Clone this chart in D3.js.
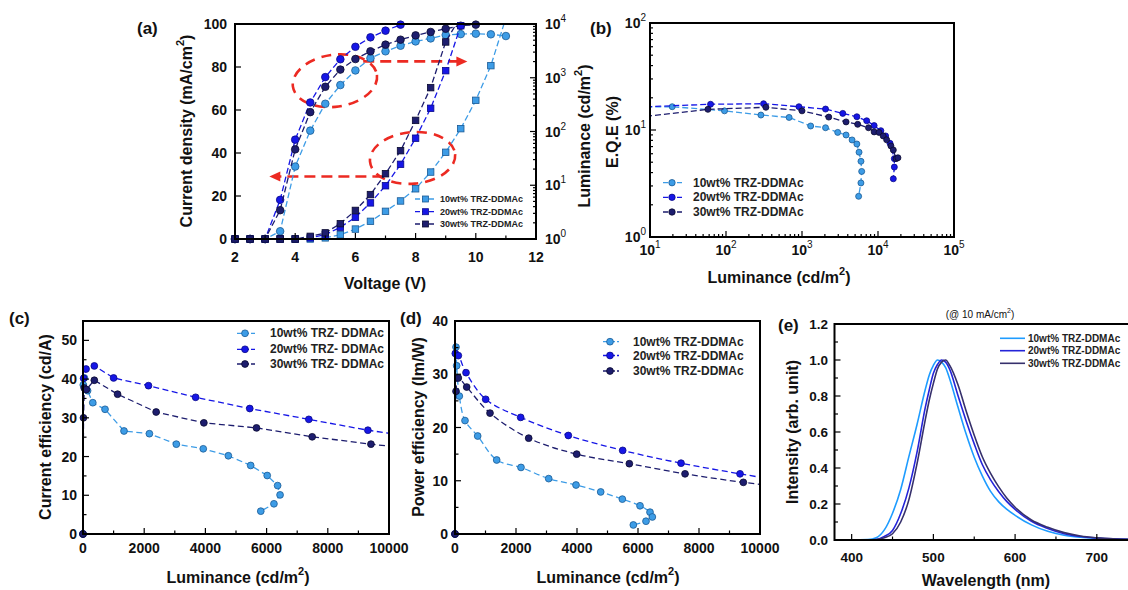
<!DOCTYPE html>
<html>
<head>
<meta charset="utf-8">
<script src="https://cdn.jsdelivr.net/npm/d3@7"></script>
<style>
  body { margin: 0; background: #fff; }
  svg { display: block; }
</style>
</head>
<body>
<script>
// ---------- series ----------
const seriesNames = ["10wt% TRZ-DDMAc", "20wt% TRZ-DDMAc", "30wt% TRZ-DDMAc"];
const seriesNamesC = ["10wt% TRZ- DDMAc", "20wt% TRZ- DDMAc", "30wt% TRZ- DDMAc"];
const fillColors = ["#3d9ce6", "#1616e6", "#1d1d6e"];
const edgeColors = ["#1b5a94", "#0a0a88", "#0a0a30"];
const specColors = ["#1e9cff", "#2424d8", "#36306c"];

// ---------- (a) J-V-L ----------
const voltA = [2, 2.5, 3, 3.5, 4, 4.5, 5, 5.5, 6, 6.5, 7, 7.5, 8, 8.5, 9, 9.5, 10, 10.5, 11];
const curDens10 = [0, 0, 0, 3.6, 33.7, 50.4, 62.9, 71.6, 78.4, 84.1, 87.3, 89.9, 91.9, 93.3, 94.9, 95.3, 95.5, 95.2, 94.4];
const curDens20 = [0, 0, 0, 18.2, 46.2, 63.5, 75.3, 83.6, 89.4, 93.8, 96.9, 99.7, null, null, null, null, null, null, null];
const curDens30 = [0, 0, 0, 13.4, 41.7, 59.0, 70.8, 78.8, 83.7, 87.3, 90.4, 92.7, 94.7, 96.3, 97.8, 99.2, 99.7, null, null];
const lumA10 = [1, 1, 1, 1, 1, 1, 1.05, 1.2, 1.53, 2.13, 3.27, 5.1, 8.6, 17.6, 41, 113, 380, 1680, 13000];
const lumA20 = [1, 1, 1, 1, 1, 1.05, 1.2, 1.66, 2.53, 4.7, 9.8, 24.5, 75, 270, 1355, 9300, null, null, null];
const lumA30 = [1, 1, 1, 1, 1, 1.12, 1.3, 1.93, 3.4, 6.7, 16.4, 44, 161, 655, 4630, 14000, null, null, null];
// red guide ellipses [V, J, rx(V), ry(J), tilt deg] and arrows [V start, V end, J]
const guideEllipses = [[5.32, 73.6, 1.41, 12.1, -8], [7.90, 37.7, 1.42, 12.0, -5]];
const guideArrows = [[6.26, 9.72, 82.6], [6.93, 3.14, 29.1]];

// ---------- (b) EQE vs luminance ----------
const eqeLum10 = [3, 19.6, 95.6, 288, 677, 1300, 2040, 2950, 3800, 4560, 5270, 5630, 5970, 6100, 5960, 5560];
const eqe10 = [16.3, 16.5, 15.1, 13.8, 13.1, 10.9, 10.5, 9.5, 8.98, 8.07, 7.4, 6.2, 5.1, 4.1, 3.2, 2.4];
const eqeLum20 = [3, 62.6, 312, 912, 2040, 3440, 5270, 7100, 8900, 10900, 12600, 14400, 16400, 16400, 15900];
const eqe20 = [16.0, 17.4, 17.6, 16.5, 15.7, 14.3, 13.3, 12.2, 11.0, 9.85, 8.8, 7.5, 5.4, 4.5, 3.5];
const eqeLum30 = [3, 57.8, 335, 1000, 2250, 3800, 5400, 7500, 8900, 10300, 11700, 13000, 14800, 15900, 17300, 18300];
const eqe30 = [12.3, 15.6, 16.3, 15.1, 13.2, 11.9, 11.3, 10.5, 9.6, 9.5, 8.8, 8.1, 7.1, 6.5, 5.4, 5.5];

// ---------- (c) current efficiency ----------
const ceLum10 = [0, 10, 45, 150, 320, 720, 1340, 2170, 3050, 3930, 4750, 5480, 6020, 6360, 6440, 6240, 5810];
const ce10 = [0, 38.5, 40.3, 37.0, 33.9, 32.2, 26.6, 25.9, 23.2, 22.0, 20.2, 17.7, 15.1, 12.5, 10.1, 7.8, 5.9];
const ceLum20 = [0, 20, 100, 370, 1000, 2140, 3680, 5450, 7380, 9310, 11500];
const ce20 = [0, 40.2, 42.6, 43.4, 40.3, 38.3, 35.3, 32.4, 29.6, 26.8, 24.3];
const ceLum30 = [0, 15, 40, 110, 370, 1130, 2390, 3950, 5670, 7490, 9410, 11000];
const ce30 = [0, 30.0, 37.7, 37.3, 39.7, 36.1, 31.5, 28.7, 27.4, 25.1, 23.2, 21.8];

// ---------- (d) power efficiency ----------
const peLum10 = [0, 33, 55, 142, 328, 744, 1367, 2164, 3072, 3968, 4777, 5487, 6066, 6394, 6470, 6262, 5847];
const pe10 = [0, 35.1, 31.6, 25.9, 21.3, 18.4, 13.9, 12.5, 10.4, 9.2, 7.9, 6.55, 5.3, 4.1, 3.2, 2.4, 1.7];
const peLum20 = [0, 10, 109, 361, 1006, 2153, 3716, 5498, 7411, 9345, 11000];
const pe20 = [0, 33.9, 33.5, 30.3, 25.3, 21.9, 18.5, 15.7, 13.3, 11.3, 9.7];
const peLum30 = [0, 33, 109, 383, 1148, 2416, 3990, 5716, 7542, 9454, 11000];
const pe30 = [0, 26.8, 29.3, 27.6, 22.7, 18.0, 15.0, 13.2, 11.3, 9.7, 8.7];

// ---------- (e) EL spectra ----------
const wavelength = [380, 400, 420, 430, 440, 450, 460, 470, 480, 490, 495, 500, 505, 510, 515, 520, 530, 540, 550, 560, 570, 580, 590, 600, 620, 640, 660, 680, 700, 720, 740];
const el10 = [0, 0, 0.002, 0.012, 0.056, 0.149, 0.281, 0.463, 0.642, 0.835, 0.917, 0.97, 1.0, 0.988, 0.958, 0.895, 0.74, 0.59, 0.46, 0.355, 0.27, 0.212, 0.17, 0.137, 0.084, 0.048, 0.026, 0.015, 0.009, 0.005, 0.003];
const el20 = [0, 0, 0, 0.003, 0.02, 0.053, 0.147, 0.288, 0.488, 0.734, 0.835, 0.926, 0.975, 1.0, 0.988, 0.948, 0.804, 0.663, 0.534, 0.418, 0.334, 0.268, 0.213, 0.17, 0.104, 0.064, 0.035, 0.019, 0.011, 0.006, 0.003];
const el30 = [0, 0, 0, 0.002, 0.012, 0.035, 0.10, 0.223, 0.424, 0.666, 0.778, 0.87, 0.95, 0.988, 1.0, 0.97, 0.864, 0.718, 0.582, 0.461, 0.37, 0.295, 0.232, 0.182, 0.111, 0.071, 0.041, 0.022, 0.012, 0.006, 0.003];

// ---------- tick values ----------
const ticksA_x = [2, 4, 6, 8, 10, 12];
const ticksA_y = [0, 20, 40, 60, 80, 100];
const ticksLin_lum = [0, 2000, 4000, 6000, 8000, 10000];
const ticksC_y = [0, 10, 20, 30, 40, 50];
const ticksD_y = [0, 10, 20, 30, 40];
const ticksE_x = [400, 500, 600, 700];
const ticksE_y = [0, 0.2, 0.4, 0.6, 0.8, 1.0, 1.2];

// ======================================================
const FONT = '"Liberation Sans", Arial, Helvetica, sans-serif';
const svg = d3.select("body").append("svg")
  .attr("width", 1128).attr("height", 590)
  .style("font-family", FONT);
const defs = svg.append("defs");

function clipFor(id, xs, ys) {
  const [x0, x1] = xs.range(), [y1, y0] = ys.range();
  defs.append("clipPath").attr("id", id).append("rect")
    .attr("x", x0).attr("y", y0).attr("width", x1 - x0).attr("height", y1 - y0);
  return `url(#${id})`;
}

function frame(xs, ys, extraRight = 0) {
  const [x0, x1] = xs.range(), [y1, y0] = ys.range();
  svg.append("rect").attr("x", x0).attr("y", y0)
    .attr("width", x1 - x0 + extraRight).attr("height", y1 - y0)
    .attr("fill", "none").attr("stroke", "#000").attr("stroke-width", 2);
}

function ticks(scale, vals, side, pos, len, w = 1.2) {
  svg.append("g").attr("stroke", "#000").attr("stroke-width", w)
    .selectAll("line").data(vals).join("line")
    .attr("x1", d => side === "bottom" ? scale(d) : pos)
    .attr("x2", d => side === "bottom" ? scale(d) : side === "left" ? pos + len : pos - len)
    .attr("y1", d => side === "bottom" ? pos : scale(d))
    .attr("y2", d => side === "bottom" ? pos - len : scale(d));
}

function labels(scale, vals, side, pos, fmt, size = 14) {
  svg.append("g").attr("font-size", size).attr("font-weight", "bold").attr("fill", "#111")
    .selectAll("text").data(vals).join("text")
    .attr("x", d => side === "bottom" ? scale(d) : pos)
    .attr("y", d => side === "bottom" ? pos : scale(d))
    .attr("text-anchor", side === "bottom" ? "middle" : side === "left" ? "end" : "start")
    .attr("dominant-baseline", "central")
    .text(fmt);
}

function powLabels(scale, vals, side, pos, size = 14) {
  const g = svg.append("g").attr("font-size", size).attr("font-weight", "bold").attr("fill", "#111");
  vals.forEach(v => {
    const t = g.append("text")
      .attr("x", side === "bottom" ? scale(v) : pos)
      .attr("y", side === "bottom" ? pos : scale(v))
      .attr("text-anchor", side === "bottom" ? "middle" : side === "left" ? "end" : "start")
      .attr("dominant-baseline", "central");
    t.append("tspan").text("10");
    t.append("tspan").attr("dy", -6).attr("font-size", 10).attr("font-weight", "normal")
      .text(Math.round(Math.log10(v)));
  });
}

function logMinors(lo, hi) {
  const out = [];
  for (let e = lo; e < hi; e++) for (let m = 2; m <= 9; m++) out.push(m * Math.pow(10, e));
  return out;
}

// text with optional superscripts: parts = ["text", {sup:"2"}, ...]
function rich(x, y, parts, opts) {
  const t = svg.append("text").attr("x", x).attr("y", y)
    .attr("text-anchor", "middle").attr("dominant-baseline", "central")
    .attr("font-size", opts.size).attr("font-weight", opts.weight || "bold").attr("fill", "#111");
  if (opts.rotate) t.attr("transform", `rotate(${opts.rotate},${x},${y})`);
  let shifted = false;
  parts.forEach(p => {
    if (typeof p === "string") {
      const s = t.append("tspan").text(p);
      if (shifted) { s.attr("dy", opts.supShift); shifted = false; }
    } else {
      t.append("tspan").attr("dy", -opts.supShift).attr("font-size", opts.supSize).text(p.sup);
      shifted = true;
    }
  });
  return t;
}

function panelTag(x, y, s) {
  svg.append("text").attr("x", x).attr("y", y).attr("font-size", 17)
    .attr("font-weight", "bold").attr("fill", "#111").text(s);
}

function plotSeries(xv, yv, xs, ys, i, o) {
  const pts = xv.map((x, k) => [x, yv[k]]).filter(p => p[1] !== null && p[1] !== undefined);
  const line = d3.line().x(d => xs(d[0])).y(d => ys(d[1])).curve(o.curve || d3.curveLinear);
  svg.append("path").datum(pts).attr("d", line)
    .attr("fill", "none").attr("stroke", o.lineColor || fillColors[i])
    .attr("stroke-width", o.lw || 1.3).attr("stroke-dasharray", o.dash || "5,3")
    .attr("clip-path", o.clip);
  const [xd0, xd1] = xs.domain(), [yd0, yd1] = ys.domain();
  const vis = pts.filter(p => p[0] >= Math.min(xd0, xd1) && p[0] <= Math.max(xd0, xd1) &&
                             p[1] >= Math.min(yd0, yd1) && p[1] <= Math.max(yd0, yd1));
  const g = svg.append("g").attr("fill", fillColors[i]).attr("stroke", edgeColors[i]).attr("stroke-width", 0.8);
  if (o.marker === "square") {
    const s = o.size;
    g.selectAll("rect").data(vis).join("rect")
      .attr("x", d => xs(d[0]) - s / 2).attr("y", d => ys(d[1]) - s / 2)
      .attr("width", s).attr("height", s);
  } else {
    g.selectAll("circle").data(vis).join("circle")
      .attr("cx", d => xs(d[0])).attr("cy", d => ys(d[1])).attr("r", o.r);
  }
}

function legend(names, o) {
  names.forEach((n, i) => {
    const y = o.ys[i];
    svg.append("line").attr("x1", o.x1).attr("x2", o.x2).attr("y1", y).attr("y2", y)
      .attr("stroke", o.lineColors ? o.lineColors[i] : fillColors[i])
      .attr("stroke-width", o.lw || 1.3).attr("stroke-dasharray", o.dash || null);
    if (o.marker === "square") {
      svg.append("rect").attr("x", o.mx - o.size / 2).attr("y", y - o.size / 2)
        .attr("width", o.size).attr("height", o.size)
        .attr("fill", fillColors[i]).attr("stroke", edgeColors[i]).attr("stroke-width", 0.8);
    } else if (o.marker === "circle") {
      svg.append("circle").attr("cx", o.mx).attr("cy", y).attr("r", o.r)
        .attr("fill", fillColors[i]).attr("stroke", edgeColors[i]).attr("stroke-width", 0.8);
    }
    svg.append("text").attr("x", o.tx).attr("y", y).attr("dominant-baseline", "central")
      .attr("font-size", o.size2).attr("font-weight", "bold").attr("fill", "#222").text(n);
  });
}

// ================= (a) =================
{
  const x = d3.scaleLinear().domain([2, 12]).range([235, 536]);
  const y = d3.scaleLinear().domain([0, 100]).range([239, 24]);
  const yR = d3.scaleLog().domain([1, 1e4]).range([239, 24]);
  const clip = clipFor("clipA", x, y);

  // red guides
  const red = "#ec2a22";
  guideEllipses.forEach(e => {
    const cx = x(e[0]), cy = y(e[1]);
    svg.append("ellipse").attr("cx", cx).attr("cy", cy)
      .attr("rx", x(e[0] + e[2]) - cx).attr("ry", cy - y(e[1] + e[3]))
      .attr("transform", `rotate(${e[4]},${cx},${cy})`)
      .attr("fill", "none").attr("stroke", red).attr("stroke-width", 2.6)
      .attr("stroke-dasharray", "10,7");
  });
  guideArrows.forEach(a => {
    const dir = Math.sign(a[1] - a[0]);
    const xe = x(a[1]), yy = y(a[2]);
    svg.append("line").attr("x1", x(a[0])).attr("x2", xe - dir * 8).attr("y1", yy).attr("y2", yy)
      .attr("stroke", red).attr("stroke-width", 2.6).attr("stroke-dasharray", "11,6");
    svg.append("path")
      .attr("d", `M${xe},${yy} L${xe - dir * 11},${yy - 5} L${xe - dir * 11},${yy + 5} Z`)
      .attr("fill", red);
  });

  const J = [curDens10, curDens20, curDens30];
  const L = [lumA10, lumA20, lumA30];
  [0, 1, 2].forEach(i => {
    plotSeries(voltA, J[i], x, y, i, { clip, marker: "circle", r: 3.8, dash: "6,3" });
  });
  [0, 1, 2].forEach(i => {
    plotSeries(voltA, L[i], x, yR, i, { clip, marker: "square", size: 6.5, dash: "6,3" });
  });

  frame(x, y);
  ticks(x, ticksA_x, "bottom", 239, 6);
  ticks(x, [3, 5, 7, 9, 11], "bottom", 239, 3.5);
  ticks(y, ticksA_y, "left", 235, 6);
  ticks(yR, [1, 10, 100, 1000, 10000], "right", 536, 6);
  ticks(yR, logMinors(0, 4), "right", 536, 3);
  labels(x, ticksA_x, "bottom", 257, d => d);
  labels(y, ticksA_y, "left", 227, d => d);
  powLabels(yR, [1, 10, 100, 1000, 10000], "right", 545);

  legend(seriesNames, { x1: 415, x2: 436, mx: 425.5, ys: [199, 211.7, 224], tx: 440,
    marker: "square", size: 6, size2: 9, dash: "5,2" });

  panelTag(137, 34, "(a)");
  rich(186, 131, ["Current density (mA/cm", { sup: "2" }, ")"],
    { size: 16, supSize: 11, supShift: 6, rotate: -90 });
  rich(584, 136, ["Luminance (cd/m", { sup: "2" }, ")"],
    { size: 16, supSize: 11, supShift: 6, rotate: -90 });
  rich(385, 283, ["Voltage (V)"], { size: 16 });
}

// ================= (b) =================
{
  const x = d3.scaleLog().domain([10, 1e5]).range([650, 954]);
  const y = d3.scaleLog().domain([1, 100]).range([237, 23]);
  const clip = clipFor("clipB", x, y);
  const Lx = [eqeLum10, eqeLum20, eqeLum30];
  const E = [eqe10, eqe20, eqe30];
  [0, 1, 2].forEach(i => plotSeries(Lx[i], E[i], x, y, i, { clip, marker: "circle", r: 3.0, dash: "6,3" }));

  frame(x, y);
  ticks(x, [10, 100, 1000, 1e4, 1e5], "bottom", 237, 6);
  ticks(x, logMinors(1, 5), "bottom", 237, 3);
  ticks(y, [1, 10, 100], "left", 650, 6);
  ticks(y, logMinors(0, 2), "left", 650, 3);
  powLabels(x, [10, 100, 1000, 1e4, 1e5], "bottom", 250);
  powLabels(y, [1, 10, 100], "left", 646);

  legend(seriesNames, { x1: 663, x2: 682, mx: 672, ys: [182.7, 197.3, 212], tx: 693,
    marker: "circle", r: 3.2, size2: 12, dash: "5,2" });

  panelTag(590, 34, "(b)");
  rich(612, 132, ["E.Q.E (%)"], { size: 16, rotate: -90 });
  rich(779, 277, ["Luminance (cd/m", { sup: "2" }, ")"], { size: 16, supSize: 11, supShift: 6 });
}

// ================= (c) =================
{
  const x = d3.scaleLinear().domain([0, 10000]).range([83, 389]);
  const y = d3.scaleLinear().domain([0, 55]).range([534, 321]);
  const clip = clipFor("clipC", x, y);
  const Lx = [ceLum10, ceLum20, ceLum30];
  const V = [ce10, ce20, ce30];
  [0, 1, 2].forEach(i => plotSeries(Lx[i], V[i], x, y, i, { clip, marker: "circle", r: 3.4, dash: "6,3.5" }));

  frame(x, y);
  ticks(x, ticksLin_lum, "bottom", 534, 6);
  ticks(x, [1000, 3000, 5000, 7000, 9000], "bottom", 534, 3.5);
  ticks(y, ticksC_y, "left", 83, 6);
  ticks(y, [5, 15, 25, 35, 45], "left", 83, 3.5);
  labels(x, ticksLin_lum, "bottom", 548, d => d);
  labels(y, ticksC_y, "left", 77, d => d);

  legend(seriesNamesC, { x1: 237, x2: 255, mx: 245, ys: [333.3, 349.3, 364], tx: 270,
    marker: "circle", r: 3.4, size2: 12, dash: "5,2" });

  panelTag(9, 324, "(c)");
  rich(45, 427, ["Current efficiency (cd/A)"], { size: 16, rotate: -90 });
  rich(238, 577, ["Luminance (cd/m", { sup: "2" }, ")"], { size: 16, supSize: 11, supShift: 6 });
}

// ================= (d) =================
{
  const x = d3.scaleLinear().domain([0, 10000]).range([455, 760]);
  const y = d3.scaleLinear().domain([0, 40]).range([534, 321]);
  const clip = clipFor("clipD", x, y);
  const Lx = [peLum10, peLum20, peLum30];
  const V = [pe10, pe20, pe30];
  [0, 1, 2].forEach(i => plotSeries(Lx[i], V[i], x, y, i,
    { clip, marker: "circle", r: 3.4, dash: "6,3.5", curve: d3.curveCatmullRom.alpha(0.5) }));

  frame(x, y);
  ticks(x, ticksLin_lum, "bottom", 534, 6);
  ticks(x, [1000, 3000, 5000, 7000, 9000], "bottom", 534, 3.5);
  ticks(y, ticksD_y, "left", 455, 6);
  ticks(y, [5, 15, 25, 35], "left", 455, 3.5);
  labels(x, ticksLin_lum, "bottom", 548, d => d);
  labels(y, ticksD_y, "left", 448, d => d);

  legend(seriesNames, { x1: 603, x2: 619, mx: 610, ys: [341.7, 355.5, 371], tx: 633,
    marker: "circle", r: 3.4, size2: 12, dash: "5,2" });

  panelTag(400, 324, "(d)");
  rich(418, 427, ["Power efficiency (lm/W)"], { size: 16, rotate: -90 });
  rich(608, 577, ["Luminance (cd/m", { sup: "2" }, ")"], { size: 16, supSize: 11, supShift: 6 });
}

// ================= (e) =================
{
  const x = d3.scaleLinear().domain([379, 740]).range([834.5, 1129.5]);
  const y = d3.scaleLinear().domain([0, 1.2]).range([540, 324]);
  const clip = clipFor("clipE", x, y);
  const S = [el10, el20, el30];
  const line = d3.line().x((d, k) => x(wavelength[k])).y(d => y(d)).curve(d3.curveMonotoneX);
  [0, 1, 2].forEach(i => {
    svg.append("path").datum(S[i]).attr("d", line)
      .attr("fill", "none").attr("stroke", specColors[i]).attr("stroke-width", 1.6)
      .attr("clip-path", clip);
  });

  frame(x, y, 4);
  ticks(x, ticksE_x, "bottom", 540, 6);
  ticks(x, [450, 550, 650], "bottom", 540, 3.5);
  ticks(y, ticksE_y, "left", 834.5, 6);
  ticks(y, [0.1, 0.3, 0.5, 0.7, 0.9, 1.1], "left", 834.5, 3.5);
  labels(x, ticksE_x, "bottom", 557, d => d, 13.5);
  labels(y, ticksE_y, "left", 828, d => d.toFixed(1), 13.5);

  legend(seriesNames, { x1: 1000, x2: 1025, ys: [338.3, 350.7, 363.3], tx: 1028,
    lineColors: specColors, lw: 1.6, size2: 10 });

  panelTag(778, 331, "(e)");
  rich(980, 314, ["(@ 10 mA/cm", { sup: "2" }, ")"], { size: 10, weight: "normal", supSize: 7, supShift: 4 });
  rich(792, 432, ["Intensity (arb. unit)"], { size: 16, rotate: -90 });
  rich(986, 580, ["Wavelength (nm)"], { size: 16 });
}
</script>
</body>
</html>
